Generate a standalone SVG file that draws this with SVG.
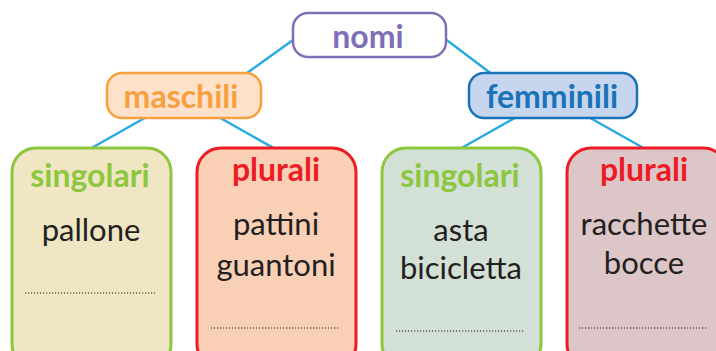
<svg xmlns="http://www.w3.org/2000/svg" width="716" height="351" viewBox="0 0 716 351">
<style>
.c{stroke:#29abe2;stroke-width:2.5;fill:none}
.h{font-family:Lato,"Open Sans",sans-serif;font-weight:bold;font-size:32px;text-anchor:middle}
.w{font-family:Lato,"Open Sans",sans-serif;font-size:31px;fill:#231f20;text-anchor:middle}
.d{stroke:#231f20;stroke-width:1.2;stroke-dasharray:1.2 1.8}
.b{stroke-width:3}
</style>
<rect width="716" height="351" fill="#fff"/>
<g id="connectors">
<line class="c" x1="300" y1="35" x2="240" y2="78"/>
<line class="c" x1="440" y1="35" x2="497" y2="78"/>
<line class="c" x1="150" y1="115" x2="88" y2="150"/>
<line class="c" x1="215" y1="115" x2="277" y2="150"/>
<line class="c" x1="520" y1="115" x2="458" y2="150"/>
<line class="c" x1="585" y1="115" x2="647" y2="150"/>
</g>
<g id="nomi">
<rect x="293" y="13" width="153" height="44" rx="15" fill="#fff" stroke="#7d6fb8" stroke-width="2.5"/>
<text class="h" x="368" y="48" fill="#7d6fb8">nomi</text>
</g>
<g id="maschili">
<rect x="107" y="73" width="154" height="45" rx="15" fill="#fde2c9" stroke="#f7a041" stroke-width="2.5"/>
<text class="h" x="181" y="108" fill="#f7a041">maschili</text>
</g>
<g id="femminili">
<rect x="469" y="73" width="168" height="45" rx="15" fill="#c6d6ee" stroke="#1a72b9" stroke-width="2.5"/>
<text class="h" x="552" y="108" fill="#1a72b9">femminili</text>
</g>
<g id="m-singolari">
<rect class="b" x="12" y="148" width="159" height="220" rx="24" fill="#f0e6c3" stroke="#8dc63f"/>
<text class="h" x="90" y="187" fill="#8dc63f">singolari</text>
<text class="w" x="91" y="241">pallone</text>
<line class="d" x1="25" y1="293" x2="155" y2="293"/>
</g>
<g id="m-plurali">
<rect class="b" x="197" y="148" width="159" height="220" rx="24" fill="#f9cfb5" stroke="#ed1c24"/>
<text class="h" x="276" y="181" fill="#ed1c24">plurali</text>
<text class="w" x="276" y="235">pattini</text>
<text class="w" x="276" y="276">guantoni</text>
<line class="d" x1="211" y1="328" x2="340" y2="328"/>
</g>
<g id="f-singolari">
<rect class="b" x="382" y="148" width="159" height="220" rx="24" fill="#d3e0d6" stroke="#8dc63f"/>
<text class="h" x="460" y="187" fill="#8dc63f">singolari</text>
<text class="w" x="461" y="241">asta</text>
<text class="w" x="461" y="279">bicicletta</text>
<line class="d" x1="396" y1="331" x2="524" y2="331"/>
</g>
<g id="f-plurali">
<rect class="b" x="567" y="148" width="160" height="220" rx="24" fill="#dcc6c8" stroke="#ed1c24"/>
<text class="h" x="644" y="181" fill="#ed1c24">plurali</text>
<text class="w" x="644" y="235">racchette</text>
<text class="w" x="644" y="274">bocce</text>
<line class="d" x1="579" y1="328" x2="708" y2="328"/>
</g>
</svg>
